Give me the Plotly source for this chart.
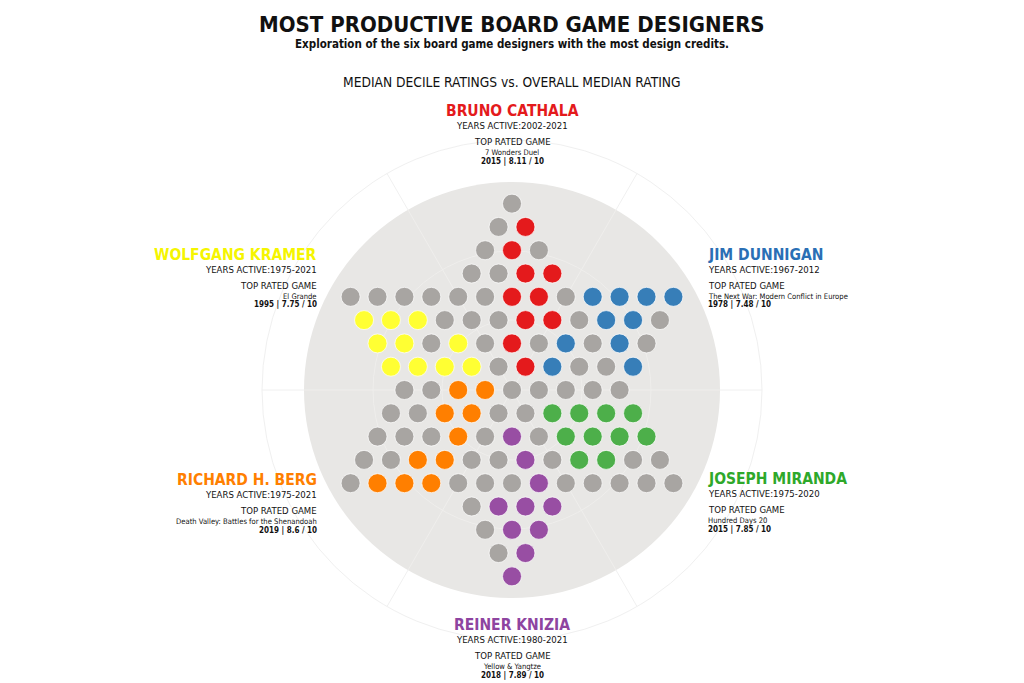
import math
import plotly.graph_objects as go

# ---------------- data ----------------
# board layout, one string per row, top to bottom
# '.' = grey (no designer), letters = designer colour code
board_rows = [
    ".",
    ".R",
    ".R.",
    "..RR",
    "......RR.BBBB",
    "YYY...RR.BB.",
    "YY.Y.R.B.B.",
    "YYYY.RB..B",
    "..OO.....",
    "..OO..NNNN",
    "...O.P.NNNN",
    "..OO..P.NN..",
    ".OOO...P.....",
    ".PPP",
    ".PP",
    ".P",
    "P",
]

codes = ["R", "B", "N", "P", "O", "Y"]
designers = ["BRUNO CATHALA", "JIM DUNNIGAN", "JOSEPH MIRANDA",
             "REINER KNIZIA", "RICHARD H. BERG", "WOLFGANG KRAMER"]
years_active = ["2002-2021", "1967-2012", "1975-2020",
                "1980-2021", "1975-2021", "1975-2021"]
top_games = ["7 Wonders Duel", "The Next War: Modern Conflict in Europe",
             "Hundred Days 20", "Yellow &amp; Yangtze",
             "Death Valley: Battles for the Shenandoah", "El Grande"]
top_game_years = [2015, 1978, 2015, 2018, 2019, 1995]
top_ratings = ["8.11", "7.48", "7.85", "7.89", "8.6", "7.75"]
colors = ["#e41a1c", "#377eb8", "#4daf4a", "#984ea3", "#ff7f00", "#ffff33"]
name_colors = ["#e41a1c", "#2a6fb5", "#2ea82a", "#8e44a0", "#ff7f00", "#f5f500"]
grey_dot = "#a8a5a2"

# ---------------- geometry ----------------
W, H = 1024, 683
U = 26.9          # pixels per lattice unit
CX, CY = 512, 390  # board centre in pixels
S3 = math.sqrt(3) / 2

xs = {c: [] for c in codes + ["."]}
ys = {c: [] for c in codes + ["."]}
for i, row in enumerate(board_rows):
    n = len(row)
    for k, ch in enumerate(row):
        xs[ch].append(-(n - 1) / 2 + k)
        ys[ch].append((8 - i) * S3)

fig = go.Figure()

FONT = "DejaVu Sans Condensed, Liberation Sans Narrow, DejaVu Sans, sans-serif"

# background disc + faint polar grid
R_DISC = 208 / U
R_OUT = 250 / U
shapes = []
for ang in [30, 90, 150, 210, 270, 330]:
    a = math.radians(ang)
    shapes.append(dict(type="line", x0=0, y0=0,
                       x1=R_OUT * math.sin(a), y1=R_OUT * math.cos(a),
                       line=dict(color="#f0f0f0", width=1), layer="below"))
shapes.append(dict(type="circle", x0=-R_OUT, x1=R_OUT, y0=-R_OUT, y1=R_OUT,
                   line=dict(color="#f0f0f0", width=1), layer="below"))
shapes.append(dict(type="circle", x0=-R_DISC, x1=R_DISC, y0=-R_DISC, y1=R_DISC,
                   fillcolor="#e8e7e5", line=dict(width=0), layer="below"))
for rr in [139 / U, 70 / U]:
    shapes.append(dict(type="circle", x0=-rr, x1=rr, y0=-rr, y1=rr,
                       line=dict(color="#efeeec", width=1), layer="below"))
for ang in [30, 90, 150, 210, 270, 330]:
    a = math.radians(ang)
    shapes.append(dict(type="line", x0=0, y0=0,
                       x1=R_DISC * math.sin(a), y1=R_DISC * math.cos(a),
                       line=dict(color="#efeeec", width=1), layer="below"))

# dots
fig.add_trace(go.Scatter(x=xs["."], y=ys["."], mode="markers",
                         marker=dict(size=19, color=grey_dot,
                                     line=dict(color="rgba(255,255,255,0.7)", width=1)),
                         hoverinfo="skip"))
for c, col in zip(codes, colors):
    fig.add_trace(go.Scatter(x=xs[c], y=ys[c], mode="markers",
                             marker=dict(size=19, color=col,
                                         line=dict(color="rgba(255,255,255,0.7)", width=1)),
                             hoverinfo="skip"))

# ---------------- text ----------------
ann = []


def txt(px, py, text, size, color="#111111", xanchor="center"):
    ann.append(dict(x=px / W, y=1 - py / H, xref="paper", yref="paper",
                    text=text, showarrow=False, xanchor=xanchor, yanchor="middle",
                    font=dict(family=FONT, size=size, color=color)))


txt(512, 24, "<b>MOST PRODUCTIVE BOARD GAME DESIGNERS</b>", 22)
txt(512, 44, "<b>Exploration of the six board game designers with the most design credits.</b>", 11.5)
txt(512, 82, "MEDIAN DECILE RATINGS vs. OVERALL MEDIAN RATING", 13.7)

# block anchors (x, y of name line, anchor)
blocks = [(512, 111, "center"), (706, 255, "left"), (706, 479, "left"),
          (512, 625, "center"), (319, 480, "right"), (319, 255, "right")]
for (bx, by, anc), name, ya, tg, gy, rt, nc in zip(
        blocks, designers, years_active, top_games, top_game_years,
        top_ratings, name_colors):
    txt(bx, by, "<b>" + name + "</b>", 15.5, nc, anc)
    txt(bx, by + 14, "YEARS ACTIVE:" + ya, 9.5, "#111111", anc)
    txt(bx, by + 30, "TOP RATED GAME", 9.5, "#111111", anc)
    txt(bx, by + 41, tg, 7.6, "#111111", anc)
    txt(bx, by + 50, "<b>%d | %s / 10</b>" % (gy, rt), 8, "#111111", anc)

fig.update_layout(
    width=W, height=H,
    margin=dict(l=0, r=0, t=0, b=0),
    paper_bgcolor="white", plot_bgcolor="white",
    showlegend=False,
    shapes=shapes, annotations=ann,
    xaxis=dict(range=[-CX / U, (W - CX) / U], visible=False, fixedrange=True),
    yaxis=dict(range=[-(H - CY) / U, CY / U], visible=False, fixedrange=True),
)

fig.write_html("out.html", config={"displayModeBar": False},
               post_script="document.body.style.margin='0';document.body.style.overflow='hidden';")
